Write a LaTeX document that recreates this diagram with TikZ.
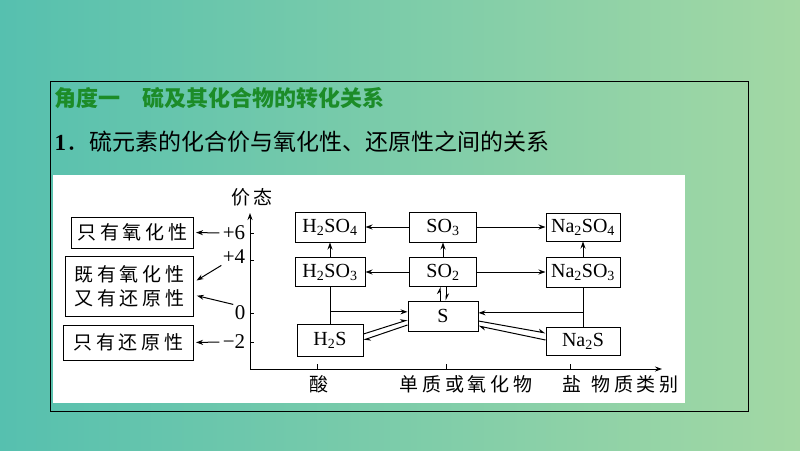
\documentclass[tikz,border=0pt]{standalone}
\usepackage{fontspec}
\usepackage{tikz}
\usetikzlibrary{arrows.meta,calc}
\newfontfamily\cjk{Noto Sans CJK SC}
\newfontfamily\cjkd[LetterSpace=20]{Noto Sans CJK SC}
\newfontfamily\tms{Liberation Serif}
\definecolor{bgleft}{RGB}{86,192,175}
\definecolor{bgright}{RGB}{163,216,164}
\definecolor{titlegreen}{RGB}{28,140,40}

\begin{document}
\begin{tikzpicture}[x=1pt,y=-1pt,>={Stealth[length=7pt,width=5pt]},
                    line width=1pt]
\tikzstyle{cpd}=[draw,fill=white,minimum width=70pt,minimum height=30pt,inner sep=1pt,font=\fontsize{20}{22}\selectfont\tms]
\tikzstyle{prop}=[draw,anchor=east,inner xsep=4pt,font=\fontsize{19}{24}\selectfont\cjkd]
\tikzstyle{val}=[inner sep=1pt,font=\fontsize{21}{22}\selectfont\tms]
\tikzstyle{axlab}=[inner sep=1pt,font=\fontsize{19}{22}\selectfont\cjkd]
\tikzstyle{half}=[-{Stealth[left,length=6pt,width=6pt]}]
% background and frame
\shade[left color=bgleft,right color=bgright] (0,0) rectangle (800,450);
\draw[line width=1pt] (50,81) rectangle (748,411);
\fill[white] (53,175) rectangle (685,403);
\node[anchor=west,inner sep=0pt,text=titlegreen,font=\fontsize{22}{24}\selectfont\cjk\bfseries] (title) at (54,98) {角度一\quad 硫及其化合物的转化关系};
\node[anchor=west,inner sep=0pt,font=\fontsize{23}{26}\selectfont\cjk] (head) at (54,142) {{\tms\bfseries 1}．硫元素的化合价与氧化性、还原性之间的关系};

% axes
\coordinate (o) at (250,369);
\coordinate (ytip) at (250,213);
\coordinate (xtip) at (662,369);
\draw[->] (o) -- (ytip);
\draw[->] (o) -- (xtip);
\foreach \yy in {233,260,313,342}
  \draw (250,\yy) -- ++(4,0);
\foreach \xx in {317,446,570}
  \draw (\xx,369) -- ++(0,-5);
\node[axlab] (vlab) at (252,197) {价态};
\node[axlab] (acid) at (319,384) {酸};
\node[axlab] (elem) at (466,384) {单质或氧化物};
\node[axlab] (salt) at (572,384) {盐};
\node[axlab] (kind) at (635,384) {物质类别};

% valences and properties
\node[val] (p6) at (234,233) {+6};
\node[val] (p4) at (234,257) {+4};
\node[val] (z0) at (240,313) {0};
\node[val] (m2) at (234,342) {−2};
\node[prop,minimum width=122pt,minimum height=31pt] (oxid) at (194,232.5) {只有氧化性};
\node[prop,minimum width=128pt,minimum height=60pt,align=center] (both) at (194,286) {既有氧化性\\又有还原性};
\node[prop,minimum width=130pt,minimum height=35pt] (redu) at (194,342.5) {只有还原性};
\draw[->,shorten >=2pt,shorten <=2pt] (p6.west) -- (oxid.east);
\draw[->,shorten >=3pt] (p4.south west) -- ([yshift=4pt]both.east);
\draw[->,shorten >=3pt] (z0.north west) -- ([yshift=-9pt]both.east);
\draw[->,shorten >=2pt,shorten <=2pt] (m2.west) -- (redu.east);

% compounds
\node[cpd] (h2so4) at (330,227) {H\textsubscript{2}SO\textsubscript{4}};
\node[cpd,minimum width=67pt] (so3) at (443,227) {SO\textsubscript{3}};
\node[cpd,minimum width=74pt,minimum height=28pt] (na2so4) at (583,227) {Na\textsubscript{2}SO\textsubscript{4}};
\node[cpd,minimum height=29pt] (h2so3) at (330,272) {H\textsubscript{2}SO\textsubscript{3}};
\node[cpd,minimum width=67pt,minimum height=29pt] (so2) at (443,272) {SO\textsubscript{2}};
\node[cpd,minimum width=74pt] (na2so3) at (583,272) {Na\textsubscript{2}SO\textsubscript{3}};
\node[cpd] (s) at (443,316) {S};
\node[cpd,minimum width=66pt,minimum height=32pt] (h2s) at (330,340) {H\textsubscript{2}S};
\node[cpd,minimum width=74pt,minimum height=28pt] (na2s) at (583,341) {Na\textsubscript{2}S};

\draw[->] (so3) -- (h2so4);
\draw[->] (so3) -- (na2so4);
\draw[->] (so2) -- (h2so3);
\draw[->] (so2) -- (na2so3);
\draw[->] (h2so3) -- (h2so4);
\draw[->] (so2) -- (so3);
\draw[->] (na2so3) -- (na2so4);
% H2SO3 + H2S and Na2SO3 + Na2S give S
\draw (h2so3) -- (h2s);
\path (h2so3.south) -- (h2s.north) coordinate[pos=0.68] (ja);
\draw[->] (ja) -- (ja -| s.west);
\draw (na2so3) -- (na2s);
\path (na2so3.south) -- (na2s.north) coordinate[pos=0.65] (jb);
\draw[->] (jb) -- (jb -| s.east);
% two-way changes
\draw[half] ([yshift=6pt]h2s.east) -- ([yshift=-4pt]s.west);
\draw[half] ([yshift=-9pt]s.west) -- ([yshift=0pt]h2s.east);
\draw[half] ([yshift=-5pt]s.east) -- ([yshift=8pt]na2s.west);
\draw[half] ([yshift=1pt]na2s.west) -- ([yshift=-10pt]s.east);
\draw[half] ([xshift=-3pt]s.north) -- ([xshift=-3pt]so2.south);
\draw[half] ([xshift=3pt]so2.south) -- ([xshift=3pt]s.north);
\end{tikzpicture}
\end{document}
